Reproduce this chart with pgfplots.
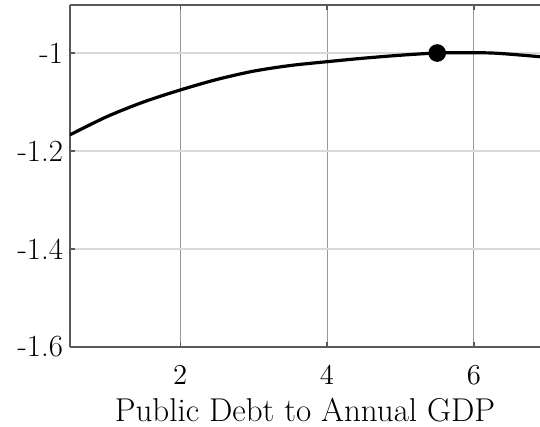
\documentclass[border=0pt]{standalone}
\usepackage{pgfplots}
\pgfplotsset{compat=1.18}

\definecolor{axiscol}{gray}{0.35}
\definecolor{hgrid}{gray}{0.85}
\definecolor{vgrid}{gray}{0.6}

\begin{document}
\begin{tikzpicture}
\begin{axis}[
  scale only axis,
  width=235pt, height=171pt,
  xmin=0.5, xmax=6.9,
  ymin=-1.6, ymax=-0.902,
  axis x line*=box,
  axis y line*=left,
  axis line style={axiscol, line width=0.8pt},
  xtick={2,4,6},
  ytick={-1.6,-1.4,-1.2,-1},
  yticklabels={{-1.6},{-1.4},{-1.2},{-1}},
  tick align=inside,
  major tick length=2.5pt,
  tick style={axiscol, line width=0.6pt},
  xmajorgrids, ymajorgrids,
  x grid style={vgrid, line width=0.5pt},
  y grid style={hgrid, line width=1pt},
  ticklabel style={font=\fontsize{15.4}{18}\selectfont},
  xticklabel style={yshift=-6pt},
  label style={font=\fontsize{16.5}{19}\selectfont},
  xlabel={Public Debt to Annual GDP},
  xlabel style={yshift=0pt},
]
\addplot[black, line width=1.6pt, smooth] coordinates {
  (0.5,-1.167) (1.0,-1.130) (1.5,-1.100) (2.0,-1.0755)
  (2.5,-1.054) (3.0,-1.037) (3.5,-1.0255) (4.0,-1.0177) (4.5,-1.0105)
  (5.0,-1.0045) (5.5,-1.000) (6.0,-0.9995) (6.25,-1.000) (6.5,-1.0025)
  (6.9,-1.0075)
};
\addplot[only marks, mark=*, mark size=4.2pt, black] coordinates {(5.5,-1.0)};
\coordinate (sw) at (rel axis cs:0,0);
\coordinate (ne) at (rel axis cs:1,1);
\end{axis}
\pgfresetboundingbox
\path ([shift={(-35pt,-40pt)}]sw) rectangle ([yshift=2.5pt]ne);
\end{tikzpicture}
\end{document}
